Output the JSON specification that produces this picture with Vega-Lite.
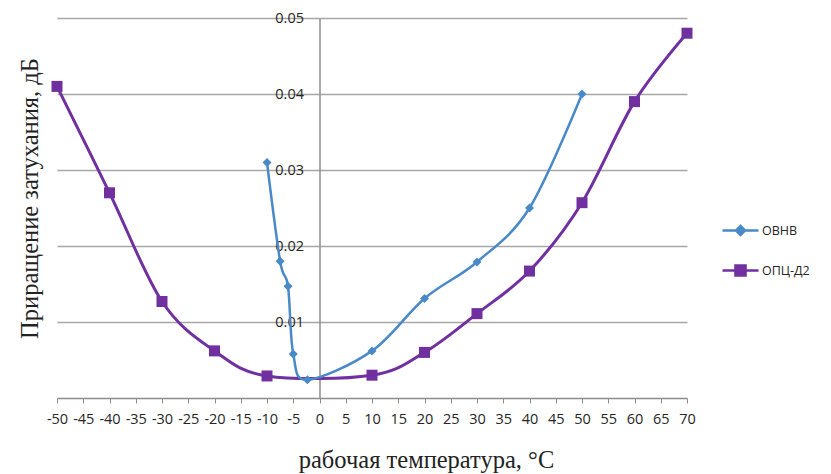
{
  "$schema": "https://vega.github.io/schema/vega-lite/v6.json",
  "width": 630,
  "height": 380,
  "autosize": "none",
  "padding": {"left": 57, "top": 18, "right": 144, "bottom": 76},
  "background": "white",
  "config": {"view": {"stroke": null}},
  "data": {"values": [
    {"s": "ОПЦ-Д2", "t": -50, "v": 0.041},
    {"s": "ОПЦ-Д2", "t": -40, "v": 0.027},
    {"s": "ОПЦ-Д2", "t": -30, "v": 0.0127},
    {"s": "ОПЦ-Д2", "t": -20, "v": 0.0062},
    {"s": "ОПЦ-Д2", "t": -10, "v": 0.0029},
    {"s": "ОПЦ-Д2", "t": 10, "v": 0.003},
    {"s": "ОПЦ-Д2", "t": 20, "v": 0.006},
    {"s": "ОПЦ-Д2", "t": 30, "v": 0.0111},
    {"s": "ОПЦ-Д2", "t": 40, "v": 0.0167},
    {"s": "ОПЦ-Д2", "t": 50, "v": 0.0257},
    {"s": "ОПЦ-Д2", "t": 60, "v": 0.039},
    {"s": "ОПЦ-Д2", "t": 70, "v": 0.048},
    {"s": "ОВНВ", "t": -10, "v": 0.031},
    {"s": "ОВНВ", "t": -7.5, "v": 0.018},
    {"s": "ОВНВ", "t": -6, "v": 0.0147},
    {"s": "ОВНВ", "t": -5, "v": 0.0058},
    {"s": "ОВНВ", "t": -2.3, "v": 0.0024},
    {"s": "ОВНВ", "t": 10, "v": 0.0062},
    {"s": "ОВНВ", "t": 20, "v": 0.0131},
    {"s": "ОВНВ", "t": 30, "v": 0.0179},
    {"s": "ОВНВ", "t": 40, "v": 0.025},
    {"s": "ОВНВ", "t": 50, "v": 0.04}
  ]},
  "encoding": {
    "x": {
      "field": "t", "type": "quantitative",
      "scale": {"domain": [-50, 70], "nice": false, "zero": false},
      "axis": {
        "values": [-50,-45,-40,-35,-30,-25,-20,-15,-10,-5,0,5,10,15,20,25,30,35,40,45,50,55,60,65,70],
        "labelExpr": "replace(datum.label, '−', '-')",
        "grid": false,
        "domainColor": "#8c8c8c", "domainWidth": 1.5,
        "tickColor": "#8c8c8c", "tickSize": 5, "tickWidth": 1,
        "labelFont": "Open Sans", "labelFontSize": 14.5, "labelColor": "#262626",
        "labelPadding": 9, "labelOverlap": false, "labelBound": false, "labelFlush": false,
        "title": "рабочая температура, °С",
        "titleFont": "Liberation Serif", "titleFontSize": 24.5, "titleFontWeight": "normal", "titleColor": "#222222",
        "titleX": 369, "titleY": 69, "titleBaseline": "alphabetic", "titleAlign": "center"
      }
    },
    "y": {
      "field": "v", "type": "quantitative",
      "scale": {"domain": [0, 0.05], "nice": false},
      "axis": {
        "values": [0.01, 0.02, 0.03, 0.04, 0.05],
        "format": ".2f",
        "offset": -262.5,
        "grid": true, "gridColor": "#a6a6a6", "gridWidth": 1.5,
        "domainColor": "#8c8c8c", "domainWidth": 1.5,
        "ticks": false,
        "labelFont": "Open Sans", "labelFontSize": 14.5, "labelColor": "#262626",
        "labelPadding": 16, "labelFlush": false,
        "title": "Приращение затухания, дБ",
        "titleFont": "Liberation Serif", "titleFontSize": 24.5, "titleFontWeight": "normal", "titleColor": "#222222",
        "titleX": -289.5, "titleY": 180, "titleAngle": -90, "titleAlign": "center", "titleBaseline": "middle"
      }
    },
    "color": {
      "field": "s", "type": "nominal",
      "scale": {"domain": ["ОВНВ", "ОПЦ-Д2"], "range": ["#4a89c8", "#7030a0"]},
      "legend": {
        "orient": "none", "legendX": 664, "legendY": 193,
        "title": null,
        "symbolSize": 1296,
        "symbolStrokeWidth": 2.5,
        "labelFont": "Open Sans", "labelFontSize": 12.5, "labelColor": "#262626",
        "labelOffset": 2, "rowPadding": 11,
        "encode": {
          "symbols": {"update": {
            "shape": {"signal": "datum.value === 'ОВНВ' ? 'M-1,0H1M0,-0.25L0.25,0L0,0.25L-0.25,0Z' : 'M-1,0H1M-0.28,-0.28H0.28V0.28H-0.28Z'"},
            "fill": {"signal": "datum.value === 'ОВНВ' ? '#4a89c8' : '#7030a0'"},
            "stroke": {"signal": "datum.value === 'ОВНВ' ? '#4a89c8' : '#7030a0'"},
            "strokeWidth": {"value": 2.5},
            "opacity": {"value": 1}
          }}
        }
      }
    }
  },
  "layer": [
    {
      "transform": [{"filter": "datum.s === 'ОПЦ-Д2'"}],
      "mark": {"type": "line", "interpolate": "cardinal", "tension": 0, "strokeWidth": 3}
    },
    {
      "transform": [{"filter": "datum.s === 'ОПЦ-Д2'"}],
      "mark": {"type": "point", "shape": "square", "filled": true, "size": 121, "opacity": 1}
    },
    {
      "transform": [{"filter": "datum.s === 'ОВНВ'"}],
      "mark": {"type": "line", "interpolate": "cardinal", "tension": 0, "strokeWidth": 2.5}
    },
    {
      "transform": [{"filter": "datum.s === 'ОВНВ'"}],
      "mark": {"type": "point", "shape": "diamond", "filled": true, "size": 81, "opacity": 1}
    }
  ]
}
